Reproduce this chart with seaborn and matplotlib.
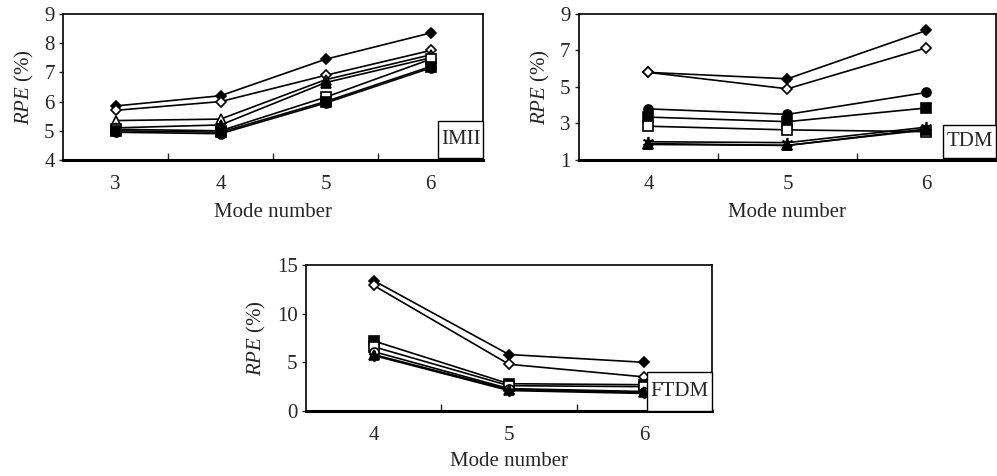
import matplotlib
matplotlib.use("Agg")
import matplotlib.pyplot as plt
import seaborn as sns
import pandas as pd
from matplotlib.patches import Rectangle

sns.set_style("white")
plt.rcParams['font.family'] = ['Liberation Serif', 'DejaVu Serif']
plt.rcParams['mathtext.fontset'] = 'custom'
plt.rcParams['mathtext.it'] = 'Liberation Serif:italic'
plt.rcParams['mathtext.rm'] = 'Liberation Serif'

# %% data
imii_modes = ["3", "4", "5", "6"]
imii_series = {
    "filled diamond": [5.85, 6.2, 7.45, 8.35],
    "open diamond": [5.7, 6.0, 6.9, 7.75],
    "open triangle": [5.35, 5.4, 6.75, 7.6],
    "filled triangle": [5.1, 5.2, 6.65, 7.5],
    "open square": [5.05, 5.0, 6.15, 7.45],
    "filled square": [5.0, 4.95, 6.0, 7.2],
    "filled circle": [4.95, 4.9, 5.95, 7.15],
}

tdm_modes = ["4", "5", "6"]
tdm_series = {
    "filled diamond": [5.8, 5.45, 8.1],
    "open diamond": [5.8, 4.9, 7.15],
    "filled circle": [3.8, 3.5, 4.7],
    "filled square": [3.35, 3.1, 3.85],
    "open square": [2.85, 2.65, 2.55],
    "asterisk": [2.0, 1.95, 2.8],
    "open triangle": [1.9, 1.8, 2.7],
    "filled triangle": [1.85, 1.8, 2.65],
}

ftdm_modes = ["4", "5", "6"]
ftdm_series = {
    "filled diamond": [13.4, 5.8, 5.0],
    "open diamond": [12.9, 4.8, 3.5],
    "filled square": [7.2, 2.8, 2.7],
    "open square": [6.6, 2.6, 2.5],
    "open circle": [6.1, 2.3, 2.0],
    "filled triangle": [5.8, 2.2, 1.9],
    "asterisk": [5.7, 2.1, 1.8],
}

marker_style = {
    "filled diamond": ("D", "black", 5.5),
    "open diamond": ("D", "white", 5.5),
    "filled triangle": ("^", "black", 6.5),
    "open triangle": ("^", "white", 6.5),
    "filled square": ("s", "black", 6.5),
    "open square": ("s", "white", 6.5),
    "filled circle": ("o", "black", 6.5),
    "open circle": ("o", "white", 6.5),
    "asterisk": ((6, 2, 0), "black", 8),
}


def draw_panel(ax, modes, series, ylim, yticks, name, box, xpad):
    rows = []
    for sname, vals in series.items():
        for i, v in enumerate(vals):
            rows.append({"pos": i, "rpe": v, "series": sname})
    df = pd.DataFrame(rows)
    for sname in series:
        m, fc, ms = marker_style[sname]
        sns.lineplot(data=df[df["series"] == sname], x="pos", y="rpe",
                     ax=ax, color="black", lw=1.2, marker=m, markersize=ms,
                     markerfacecolor=fc, markeredgecolor="black",
                     markeredgewidth=1.2, legend=False)
    n = len(modes)
    ax.set_xlim(-0.5, n - 0.5)
    ax.set_ylim(*ylim)
    ax.set_xticks(range(n))
    ax.set_xticklabels(modes)
    ax.set_xticks([i + 0.5 for i in range(n - 1)], minor=True)
    ax.tick_params(axis="x", which="major", length=0, pad=11, labelsize=15)
    ax.tick_params(axis="x", which="minor", length=5, width=1,
                   direction="in", bottom=True)
    ax.set_yticks(yticks)
    ax.tick_params(axis="y", length=3, width=1, direction="out", left=True,
                   pad=3, labelsize=15)
    ax.set_xlabel("Mode number", fontsize=15, labelpad=xpad)
    ax.set_ylabel(r"$\it{RPE}$ (%)", fontsize=15, labelpad=6)
    for side, sp in ax.spines.items():
        sp.set_visible(True)
        sp.set_color("black")
        sp.set_linewidth(1.2)
    ax.spines["bottom"].set_linewidth(2.2)
    x0, y0, x1, y1 = box
    ax.add_patch(Rectangle((x0, y0), x1 - x0, y1 - y0, transform=ax.transAxes,
                           facecolor="white", edgecolor="black", lw=1.0,
                           zorder=5, clip_on=False))
    ax.text((x0 + x1) / 2, (y0 + y1) / 2, name, transform=ax.transAxes,
            ha="center", va="center", fontsize=15, zorder=6)


fig = plt.figure(figsize=(9.97, 4.76), dpi=100)
ax1 = fig.add_axes([0.0632, 0.6639, 0.4213, 0.3067])
ax2 = fig.add_axes([0.5807, 0.6639, 0.4183, 0.3067])
ax3 = fig.add_axes([0.3069, 0.1366, 0.4072, 0.3067])

draw_panel(ax1, imii_modes, imii_series, (4, 9), [4, 5, 6, 7, 8, 9], "IMII",
           (0.893, 0.014, 1.0, 0.267), 6)
draw_panel(ax2, tdm_modes, tdm_series, (1, 9), [1, 3, 5, 7, 9], "TDM",
           (0.873, 0.014, 1.0, 0.24), 6)
draw_panel(ax3, ftdm_modes, ftdm_series, (0, 15), [0, 5, 10, 15], "FTDM",
           (0.84, 0.0, 1.0, 0.267), 5)

fig.savefig("out.png", dpi=100)
